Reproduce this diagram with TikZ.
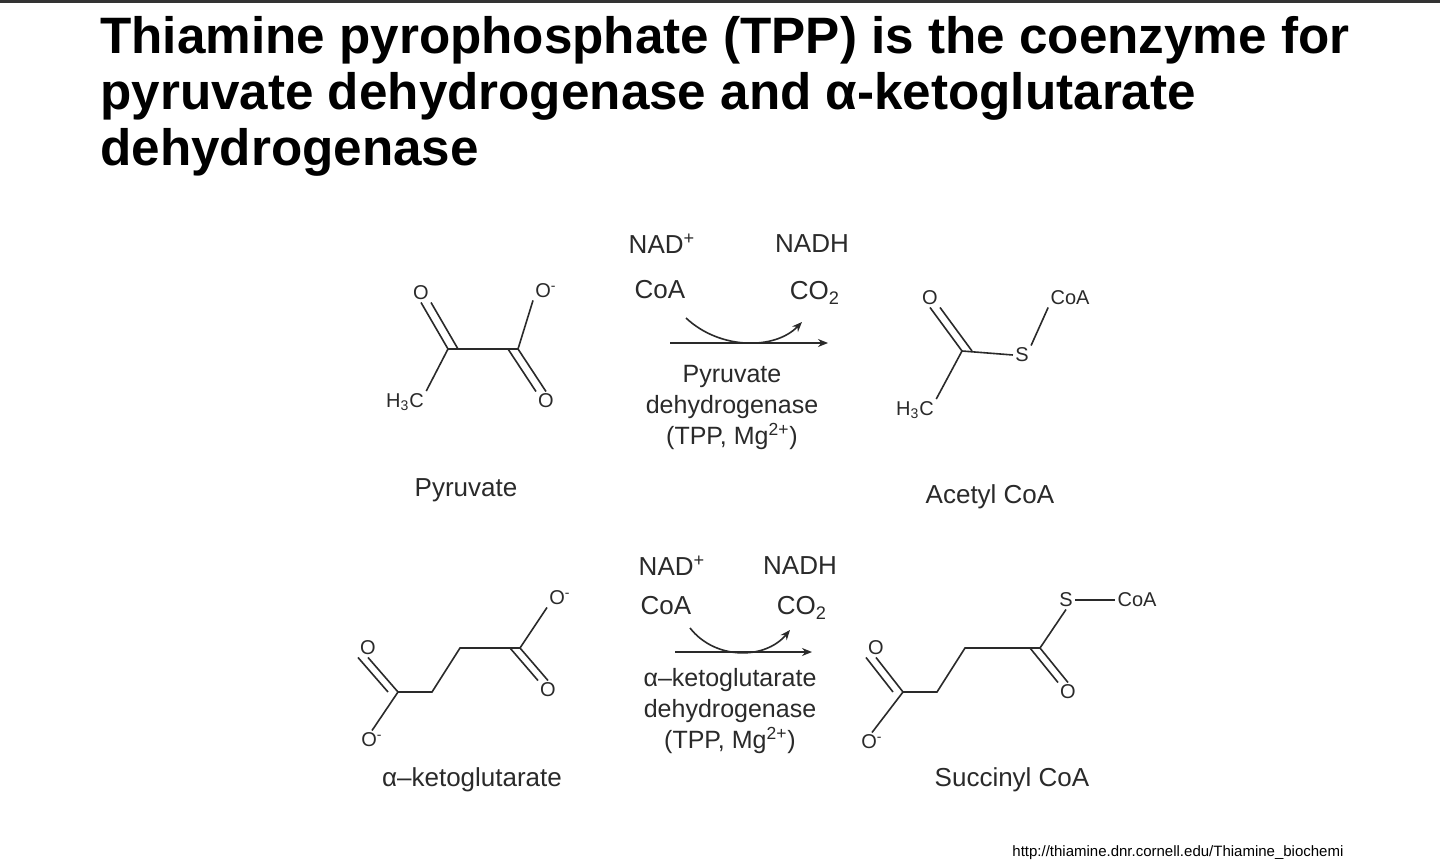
\documentclass[tikz,border=0pt]{standalone}
\usepackage{fontspec}
\setmainfont{Liberation Sans}
\usetikzlibrary{arrows.meta}
\definecolor{ink}{HTML}{2A2A2A}
\begin{document}
\begin{tikzpicture}[x=0.5pt,y=-0.5pt,
  atom/.style={font=\fontsize{10}{10}\selectfont,text=ink,inner sep=1pt},
  lbl/.style={font=\fontsize{13}{13}\selectfont,text=ink,inner sep=0pt},
  enz/.style={font=\fontsize{12.5}{15.5}\selectfont,text=ink,align=center,inner sep=0pt},
  bond/.style={draw=ink,line width=0.8pt},
  rxn/.style={draw=ink,line width=0.8pt,-{Stealth[length=5pt,width=4pt]}},
  title/.style={font=\bfseries\fontsize{25.6}{28}\selectfont,text=black,anchor=west,inner sep=0pt}]
\useasboundingbox[fill=white] (0,0) rectangle (1440,861);
\fill[black!80] (0,0) rectangle (1440,3);
\node[title] (t1) at (100,40) {Thiamine pyrophosphate (TPP) is the coenzyme for};
\node[title] (t2) at (100,96) {pyruvate dehydrogenase and α-ketoglutarate};
\node[title] (t3) at (100,152) {dehydrogenase};
% Pyruvate
\coordinate (p1) at (448,349); \coordinate (p2) at (518,349);
\node[atom] (pO1) at (421,293) {O};
\node[atom] (pO2) at (546,291) {O\textsuperscript{-}};
\node[atom] (pO3) at (546,401) {O};
\node[atom] (pMe) at (405,402) {H\textsubscript{3}C};
\draw[bond] (p1) -- (p2);
\draw[bond] (p1) -- (pO1.south); \draw[bond] ([xshift=5pt]p1) -- ([xshift=5pt]pO1.south);
\draw[bond] (p1) -- (pMe.north east);
\draw[bond] (p2) -- (pO2.south west);
\draw[bond] (p2) -- (pO3.north); \draw[bond] ([xshift=-5pt]p2) -- ([xshift=-5pt]pO3.north);
\node[lbl] (pn) at (466,490) {Pyruvate};
% Acetyl CoA
\coordinate (a1) at (962,351);
\node[atom] (aO) at (930,298) {O};
\node[atom] (aS) at (1022,355) {S};
\node[atom] (aCoA) at (1070,298) {CoA};
\node[atom] (aMe) at (915,410) {H\textsubscript{3}C};
\draw[bond] (a1) -- (aO.south); \draw[bond] ([xshift=5pt]a1) -- ([xshift=5pt]aO.south);
\draw[bond] (a1) -- (aS.west);
\draw[bond] (a1) -- (aMe.north east);
\draw[bond] (aS.north east) -- (aCoA.south west);
\node[lbl] (an) at (990,497) {Acetyl CoA};
% Reaction 1
\node[lbl] (r1a) at (662,244) {NAD\textsuperscript{+}};
\node[lbl] (r1b) at (812,244) {NADH};
\node[lbl] (r1c) at (660,290) {CoA};
\node[lbl] (r1d) at (815,293) {CO\textsubscript{2}};
\coordinate (r1s) at (670,343); \coordinate (r1e) at (828,343);
\draw[rxn] (r1s) -- (r1e);
\coordinate (c1s) at (686,318); \coordinate (c1e) at (802,322);
\draw[rxn] (c1s) .. controls (720,350) and (775,350) .. (c1e);
\node[enz] (e1) at (732,407) {Pyruvate\\dehydrogenase\\(TPP, Mg\textsuperscript{2+})};
% alpha-ketoglutarate
\coordinate (k1) at (398,692); \coordinate (k2) at (432,692);
\coordinate (k3) at (460,648); \coordinate (k4) at (520,648);
\node[atom] (kO1) at (368,648) {O};
\node[atom] (kO2) at (372,740) {O\textsuperscript{-}};
\node[atom] (kO3) at (560,598) {O\textsuperscript{-}};
\node[atom] (kO4) at (548,690) {O};
\draw[bond] (k1) -- (k2) -- (k3) -- (k4);
\draw[bond] (k1) -- (kO1.south); \draw[bond] ([xshift=-5pt]k1) -- ([xshift=-5pt]kO1.south);
\draw[bond] (k1) -- (kO2.north);
\draw[bond] (k4) -- (kO3.south west);
\draw[bond] (k4) -- (kO4.north); \draw[bond] ([xshift=-5pt]k4) -- ([xshift=-5pt]kO4.north);
\node[lbl] (kn) at (472,780) {α–ketoglutarate};
% Succinyl CoA
\coordinate (s1) at (903,692); \coordinate (s2) at (937,692);
\coordinate (s3) at (965,648); \coordinate (s4) at (1040,648);
\node[atom] (sO1) at (876,648) {O};
\node[atom] (sO2) at (872,742) {O\textsuperscript{-}};
\node[atom] (sS) at (1066,600) {S};
\node[atom] (sCoA) at (1137,600) {CoA};
\node[atom] (sO3) at (1068,692) {O};
\draw[bond] (s1) -- (s2) -- (s3) -- (s4);
\draw[bond] (s1) -- (sO1.south); \draw[bond] ([xshift=-5pt]s1) -- ([xshift=-5pt]sO1.south);
\draw[bond] (s1) -- (sO2.north);
\draw[bond] (s4) -- (sS.south);
\draw[bond] (sS.east) -- (sCoA.west);
\draw[bond] (s4) -- (sO3.north); \draw[bond] ([xshift=-5pt]s4) -- ([xshift=-5pt]sO3.north);
\node[lbl] (sn) at (1012,780) {Succinyl CoA};
% Reaction 2
\node[lbl] (r2a) at (672,566) {NAD\textsuperscript{+}};
\node[lbl] (r2b) at (800,566) {NADH};
\node[lbl] (r2c) at (666,606) {CoA};
\node[lbl] (r2d) at (802,608) {CO\textsubscript{2}};
\coordinate (r2s) at (675,652); \coordinate (r2e) at (812,652);
\draw[rxn] (r2s) -- (r2e);
\coordinate (c2s) at (690,628); \coordinate (c2e) at (790,630);
\draw[rxn] (c2s) .. controls (715,660) and (765,660) .. (c2e);
\node[enz] (e2) at (730,711) {α–ketoglutarate\\dehydrogenase\\(TPP, Mg\textsuperscript{2+})};
\node[font=\fontsize{7.5}{7.5}\selectfont,anchor=west,inner sep=0pt] (url) at (1012,853) {http://thiamine.dnr.cornell.edu/Thiamine\_biochemi};
\end{tikzpicture}
\end{document}
